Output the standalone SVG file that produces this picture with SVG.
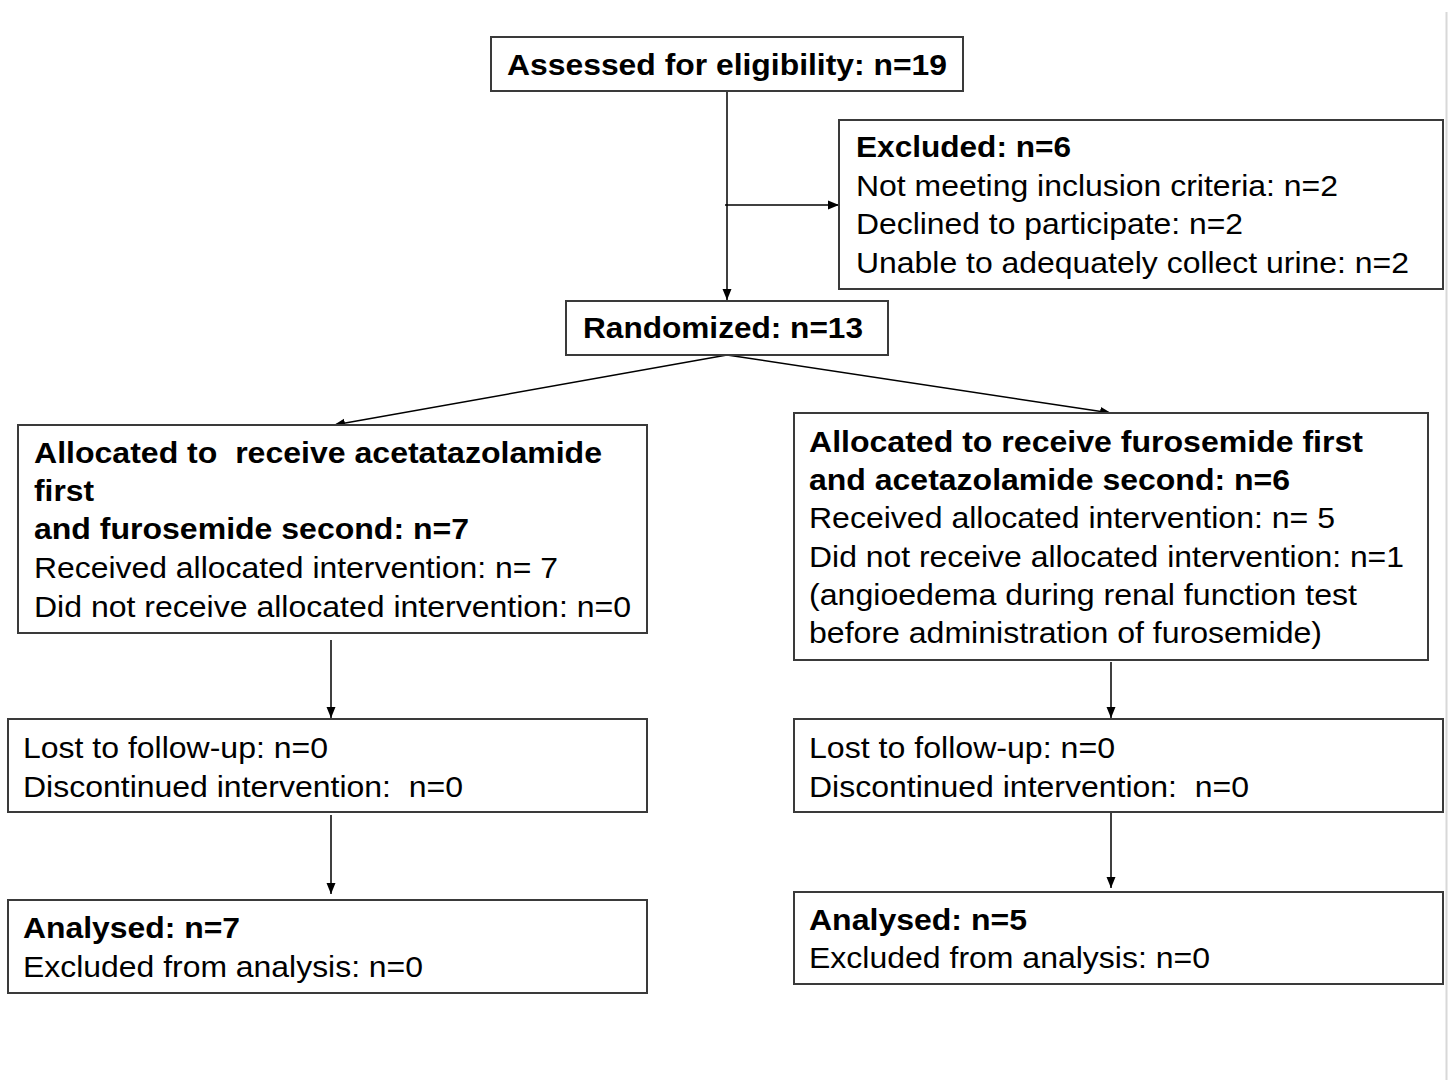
<svg xmlns="http://www.w3.org/2000/svg" width="1448" height="1080" viewBox="0 0 1448 1080">
<defs>
<style>
.box{fill:#fff;stroke:#3a3a3a;stroke-width:2}
.t{font-family:"Liberation Sans",Arial,sans-serif;font-size:30px;fill:#000;white-space:pre}
.b{font-weight:bold}
.c{fill:none;stroke:#000;stroke-width:1.5}
</style>
<marker id="ah" markerUnits="userSpaceOnUse" markerWidth="12" markerHeight="10" refX="11" refY="5" orient="auto">
<path d="M0,0.5 L11,5 L0,9.5 z" fill="#000"/>
</marker>
</defs>
<rect width="1448" height="1080" fill="#fff"/>
<line x1="1446.5" y1="12" x2="1446.5" y2="1080" stroke="#d8d8d8" stroke-width="2"/>
<g id="connectors">
<line class="c" x1="727" y1="91" x2="727" y2="300" marker-end="url(#ah)"/>
<line class="c" x1="725" y1="205" x2="839" y2="205" marker-end="url(#ah)"/>
<line class="c" x1="727" y1="355" x2="334" y2="425" marker-end="url(#ah)"/>
<line class="c" x1="727" y1="355" x2="1111" y2="413" marker-end="url(#ah)"/>
<line class="c" x1="331" y1="640" x2="331" y2="718" marker-end="url(#ah)"/>
<line class="c" x1="1111" y1="662" x2="1111" y2="718" marker-end="url(#ah)"/>
<line class="c" x1="331" y1="815" x2="331" y2="894" marker-end="url(#ah)"/>
<line class="c" x1="1111" y1="808" x2="1111" y2="888" marker-end="url(#ah)"/>
</g>
<g id="assessed">
<rect class="box" x="491" y="37" width="472" height="54"/>
<text class="t b" x="507" y="75" textLength="440" lengthAdjust="spacingAndGlyphs">Assessed for eligibility: n=19</text>
</g>
<g id="excluded">
<rect class="box" x="839" y="120" width="604" height="169"/>
<text class="t b" x="856" y="157" textLength="215" lengthAdjust="spacingAndGlyphs">Excluded: n=6</text>
<text class="t" x="856" y="196" textLength="482" lengthAdjust="spacingAndGlyphs">Not meeting inclusion criteria: n=2</text>
<text class="t" x="856" y="234" textLength="387" lengthAdjust="spacingAndGlyphs">Declined to participate: n=2</text>
<text class="t" x="856" y="273" textLength="553" lengthAdjust="spacingAndGlyphs">Unable to adequately collect urine: n=2</text>
</g>
<g id="randomized">
<rect class="box" x="566" y="301" width="322" height="54"/>
<text class="t b" x="583" y="338" textLength="280" lengthAdjust="spacingAndGlyphs">Randomized: n=13</text>
</g>
<g id="allocL">
<rect class="box" x="18" y="425" width="629" height="208"/>
<text class="t b" x="34" y="463" textLength="568" lengthAdjust="spacingAndGlyphs">Allocated to  receive acetatazolamide</text>
<text class="t b" x="34" y="501" textLength="60" lengthAdjust="spacingAndGlyphs">first</text>
<text class="t b" x="34" y="539" textLength="435" lengthAdjust="spacingAndGlyphs">and furosemide second: n=7</text>
<text class="t" x="34" y="578" textLength="524" lengthAdjust="spacingAndGlyphs">Received allocated intervention: n= 7</text>
<text class="t" x="34" y="617" textLength="597" lengthAdjust="spacingAndGlyphs">Did not receive allocated intervention: n=0</text>
</g>
<g id="allocR">
<rect class="box" x="794" y="413" width="634" height="247"/>
<text class="t b" x="809" y="452" textLength="554" lengthAdjust="spacingAndGlyphs">Allocated to receive furosemide first</text>
<text class="t b" x="809" y="490" textLength="481" lengthAdjust="spacingAndGlyphs">and acetazolamide second: n=6</text>
<text class="t" x="809" y="528" textLength="526" lengthAdjust="spacingAndGlyphs">Received allocated intervention: n= 5</text>
<text class="t" x="809" y="567" textLength="595" lengthAdjust="spacingAndGlyphs">Did not receive allocated intervention: n=1</text>
<text class="t" x="809" y="605" textLength="548" lengthAdjust="spacingAndGlyphs">(angioedema during renal function test</text>
<text class="t" x="809" y="643" textLength="513" lengthAdjust="spacingAndGlyphs">before administration of furosemide)</text>
</g>
<g id="lostL">
<rect class="box" x="8" y="719" width="639" height="93"/>
<text class="t" x="23" y="758" textLength="305" lengthAdjust="spacingAndGlyphs">Lost to follow-up: n=0</text>
<text class="t" x="23" y="797" textLength="440" lengthAdjust="spacingAndGlyphs">Discontinued intervention:  n=0</text>
</g>
<g id="lostR">
<rect class="box" x="794" y="719" width="649" height="93"/>
<text class="t" x="809" y="758" textLength="306" lengthAdjust="spacingAndGlyphs">Lost to follow-up: n=0</text>
<text class="t" x="809" y="797" textLength="440" lengthAdjust="spacingAndGlyphs">Discontinued intervention:  n=0</text>
</g>
<g id="analysedL">
<rect class="box" x="8" y="900" width="639" height="93"/>
<text class="t b" x="23" y="938" textLength="217" lengthAdjust="spacingAndGlyphs">Analysed: n=7</text>
<text class="t" x="23" y="977" textLength="400" lengthAdjust="spacingAndGlyphs">Excluded from analysis: n=0</text>
</g>
<g id="analysedR">
<rect class="box" x="794" y="892" width="649" height="92"/>
<text class="t b" x="809" y="930" textLength="218" lengthAdjust="spacingAndGlyphs">Analysed: n=5</text>
<text class="t" x="809" y="968" textLength="401" lengthAdjust="spacingAndGlyphs">Excluded from analysis: n=0</text>
</g>
</svg>
